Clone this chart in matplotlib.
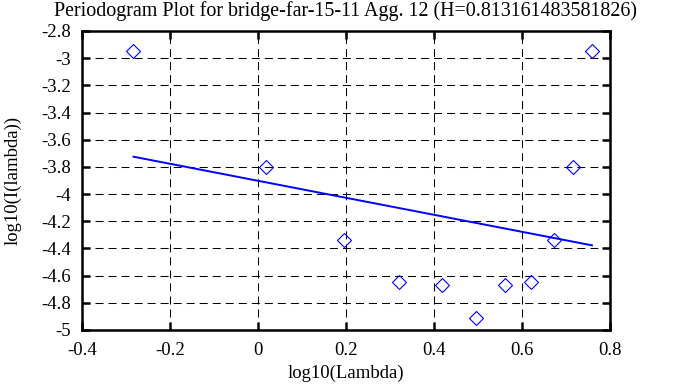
import matplotlib
matplotlib.use("Agg")
import matplotlib.pyplot as plt

# periodogram points (log10 lambda, log10 I)
log_lambda = [-0.283, 0.0175, 0.195, 0.321, 0.4175, 0.496, 0.562, 0.621, 0.672, 0.717, 0.759]
log_I = [-2.947, -3.803, -4.338, -4.649, -4.671, -4.914, -4.671, -4.649, -4.338, -3.803, -2.947]

# fitted line endpoints
fit_x = [-0.283, 0.759]
fit_y = [-3.725, -4.377]

x_ticks = [-0.4, -0.2, 0, 0.2, 0.4, 0.6, 0.8]
x_labels = ["-0.4", "-0.2", "0", "0.2", "0.4", "0.6", "0.8"]
y_ticks = [-5, -4.8, -4.6, -4.4, -4.2, -4, -3.8, -3.6, -3.4, -3.2, -3, -2.8]
y_labels = ["-5", "-4.8", "-4.6", "-4.4", "-4.2", "-4", "-3.8", "-3.6", "-3.4", "-3.2", "-3", "-2.8"]

plt.rcParams['font.family'] = ['Liberation Serif', 'DejaVu Serif']
plt.rcParams['font.size'] = 13.5

fig = plt.figure(figsize=(6.88, 3.87), dpi=100)
ax = fig.add_axes([0.1192, 0.1473, 0.7674, 0.7726])

ax.plot(log_lambda, log_I, linestyle='', marker='D', markersize=7.1,
        markerfacecolor='none', markeredgecolor='#0000ff', markeredgewidth=0.8)
ax.plot(fit_x, fit_y, color='#0000ff', linewidth=1.4)

ax.set_xlim(-0.4, 0.8)
ax.set_ylim(-5, -2.8)
ax.set_xticks(x_ticks)
ax.set_xticklabels(x_labels)
ax.set_yticks(y_ticks)
ax.set_yticklabels(y_labels)

ax.grid(True, color='black', linestyle=(0, (7.7, 4.8)), linewidth=0.75)
ax.tick_params(direction='in', length=5.8, width=1.8, top=True, right=True)
ax.tick_params(axis='x', pad=9)
ax.tick_params(axis='y', pad=8)
for s in ax.spines.values():
    s.set_linewidth(1.8)

ax.set_title("Periodogram Plot for bridge-far-15-11 Agg. 12 (H=0.813161483581826)",
             fontsize=14.4, pad=11)
ax.set_xlabel("log10(Lambda)", labelpad=4)
ax.set_ylabel("log10(I(lambda))", labelpad=14)

fig.savefig("out.png", dpi=100)
